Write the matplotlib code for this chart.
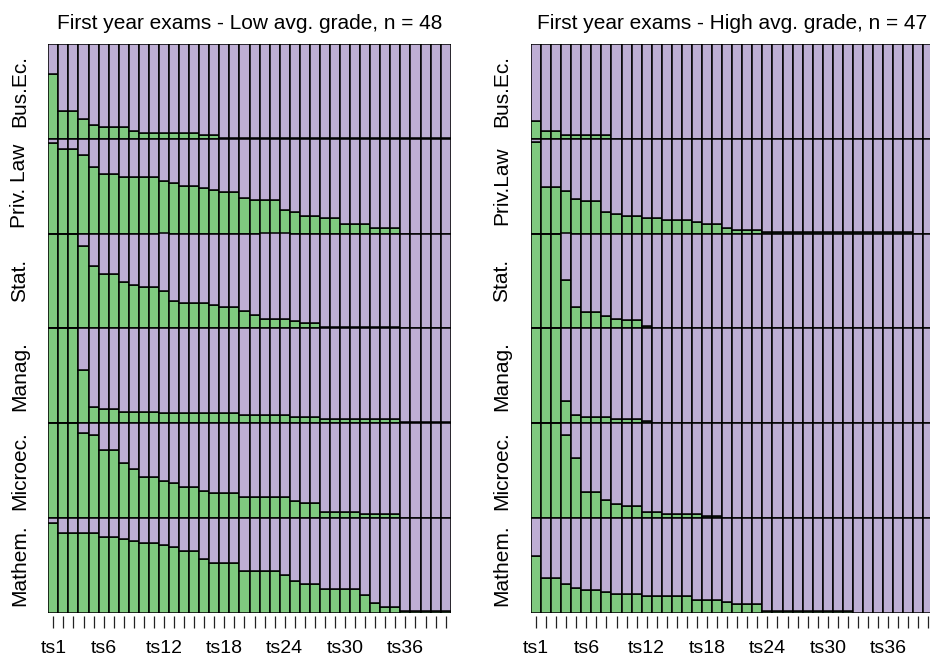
import numpy as np
import matplotlib.pyplot as plt
from matplotlib.transforms import blended_transform_factory

plt.rcParams['font.family'] = ['Liberation Sans', 'DejaVu Sans']

green = '#7FC97F'
purple = '#BEAED4'

n_ts = 40
ts_labels = ['ts%d' % i for i in range(1, n_ts + 1)]
shown_ts = [1, 6, 12, 18, 24, 30, 36]

# share of students still to pass the exam, per time step (low avg. grade, n = 48)
bus_low = [0.68, 0.29, 0.29, 0.21, 0.145, 0.12, 0.12, 0.12, 0.08, 0.06, 0.06, 0.06, 0.06, 0.06,
           0.06, 0.038, 0.038] + [0.01] * 23
priv_low = [0.954, 0.89, 0.89, 0.829, 0.705, 0.623, 0.623, 0.601, 0.601, 0.601, 0.601, 0.559,
            0.537, 0.498, 0.498, 0.477, 0.456, 0.434, 0.434, 0.374, 0.352, 0.352, 0.352, 0.246,
            0.224, 0.185, 0.185, 0.164, 0.164, 0.103, 0.103, 0.103, 0.057, 0.057, 0.057,
            0, 0, 0, 0, 0]
stat_low = [1, 1, 1, 0.87, 0.662, 0.577, 0.577, 0.493, 0.454, 0.433, 0.433, 0.391, 0.292, 0.268,
            0.268, 0.268, 0.246, 0.225, 0.225, 0.183, 0.141, 0.099, 0.099, 0.099, 0.081, 0.06,
            0.06] + [0.012] * 8 + [0] * 5
manag_low = [1, 1, 1, 0.56, 0.168, 0.143, 0.143] + [0.121] * 4 + [0.104] * 8 + [0.086] * 5 \
    + [0.064] * 3 + [0.039] * 8 + [0.015] * 5
micro_low = [1, 1, 1, 0.899, 0.878, 0.713, 0.713, 0.573, 0.51, 0.427, 0.427, 0.388, 0.367, 0.325,
             0.325, 0.287, 0.266, 0.266, 0.266, 0.22, 0.22, 0.22, 0.22, 0.22, 0.178, 0.16, 0.16] \
    + [0.056] * 4 + [0.035] * 4 + [0] * 5
math_low = [0.943, 0.836, 0.836, 0.836, 0.836, 0.796, 0.796, 0.771, 0.75, 0.729, 0.729, 0.711,
            0.689, 0.646, 0.646, 0.561, 0.521, 0.521, 0.521, 0.436, 0.436, 0.436, 0.436, 0.396,
            0.332, 0.296, 0.296, 0.246, 0.246, 0.246, 0.246, 0.189, 0.104, 0.061, 0.061] + [0.02] * 5

# high avg. grade, n = 47
bus_high = [0.189, 0.082, 0.082] + [0.039] * 5 + [0] * 32
priv_high = [0.97, 0.488, 0.488, 0.445, 0.359, 0.338, 0.338, 0.231, 0.21, 0.189, 0.189, 0.167,
             0.167, 0.146, 0.146, 0.146, 0.125, 0.103, 0.103, 0.06, 0.039, 0.039, 0.039] \
    + [0.012] * 15 + [0, 0]
stat_high = [1, 1, 1, 0.504, 0.229, 0.173, 0.173, 0.127, 0.102, 0.085, 0.085, 0.02] + [0] * 28
manag_high = [1, 1, 1, 0.232, 0.086, 0.061, 0.061, 0.061, 0.039, 0.039, 0.039, 0.018] + [0] * 28
micro_high = [1, 1, 1, 0.878, 0.626, 0.273, 0.273, 0.185, 0.143, 0.122, 0.122, 0.063, 0.063] \
    + [0.038] * 4 + [0.02] * 2 + [0] * 21
math_high = [0.6, 0.361, 0.361, 0.3, 0.257, 0.236, 0.236, 0.214, 0.193, 0.193, 0.193] \
    + [0.171] * 5 + [0.129] * 3 + [0.107] + [0.086] * 3 + [0.015] * 9 + [0] * 8

exams_low = ['Bus.Ec.', 'Priv. Law', 'Stat.', 'Manag.', 'Microec.', 'Mathem.']
exams_high = ['Bus.Ec.', 'Priv.Law', 'Stat.', 'Manag.', 'Microec.', 'Mathem.']

panels = [
    ('First year exams - Low avg. grade, n = 48', exams_low,
     [bus_low, priv_low, stat_low, manag_low, micro_low, math_low]),
    ('First year exams - High avg. grade, n = 47', exams_high,
     [bus_high, priv_high, stat_high, manag_high, micro_high, math_high]),
]

fig = plt.figure(figsize=(9.3, 6.64), dpi=100)
W, H = 930., 664.
boxes = [(48.3, 44, 402.4, 568.5), (531, 44, 402.4, 568.5)]

x = np.arange(n_ts) + 0.5
for (title, exams, rows), (l, t, w, h) in zip(panels, boxes):
    ax = fig.add_axes([l / W, 1 - (t + h) / H, w / W, h / H])
    nrow = len(rows)
    for k, p in enumerate(rows):
        base = nrow - 1 - k  # first exam on top
        p = np.array(p, dtype=float)
        ax.bar(x, p, width=1, bottom=base, color=green, edgecolor='black', linewidth=1.1)
        ax.bar(x, 1 - p, width=1, bottom=base + p, color=purple, edgecolor='black',
               linewidth=1.1)
    ax.set_xlim(0, n_ts)
    ax.set_ylim(0, nrow)

    tr = blended_transform_factory(ax.transAxes, ax.transData)
    for k, name in enumerate(exams):
        ax.text(-29 / w, nrow - 1 - k + 0.5, name, transform=tr, rotation=90,
                ha='center', va='center', fontsize=15)

    ax.set_xticks(x)
    ax.set_xticklabels([s if i + 1 in shown_ts else '' for i, s in enumerate(ts_labels)])
    ax.tick_params(axis='x', length=8.6, width=0.9, pad=9, direction='out',
                   labelsize=14, color='#222222')
    ax.set_yticks([])
    for s in ['top', 'right', 'left']:
        ax.spines[s].set_visible(False)
    ax.spines['bottom'].set_position(('outward', 2.2))
    ax.spines['bottom'].set_visible(False)
    ax.set_title(title, fontsize=15, pad=10.5)

fig.savefig('out.png', dpi=100)
